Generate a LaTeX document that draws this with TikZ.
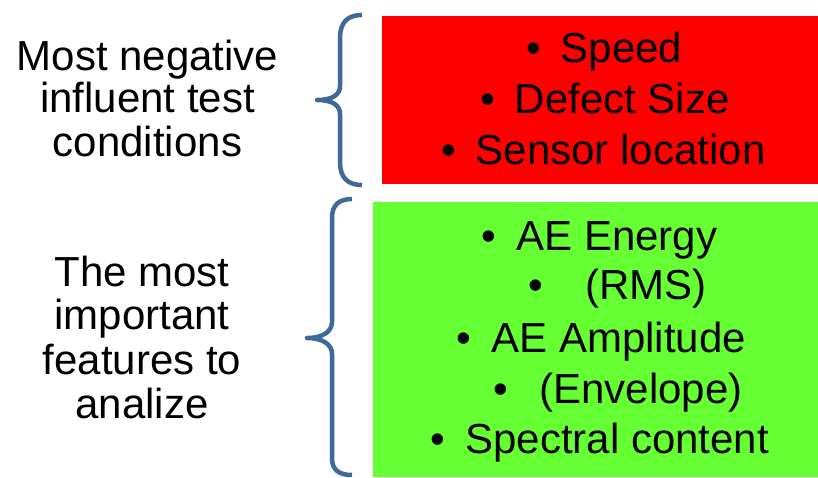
\documentclass[tikz,border=0pt]{standalone}
\usepackage{fontspec}
\setmainfont{Liberation Sans}
\definecolor{bracecol}{RGB}{64,104,153}
\definecolor{boxred}{RGB}{255,0,0}
\definecolor{boxgreen}{RGB}{102,255,51}
\begin{document}
\begin{tikzpicture}[x=1pt,y=-1pt,
  txt/.style={inner sep=0pt, font=\fontsize{42}{50}\selectfont},
  item/.style={txt, anchor=base west},
  sidetxt/.style={txt, anchor=base},
  panel/.style={draw=none, inner sep=0pt, anchor=north west},
  curly/.style={draw=bracecol, line width=4.5pt, line join=round}]
\useasboundingbox (0,0) rectangle (818,477);

% coloured panels
\node[panel, fill=boxred, minimum width=436pt, minimum height=168pt] (redbox) at (382,16) {};
\node[panel, fill=boxgreen, minimum width=445pt, minimum height=275pt] (greenbox) at (373,202) {};

% upper brace
\draw[curly] (362,15) .. controls (348,15) and (340,22) .. (340,38) -- (340,86)
  .. controls (340,95) and (332,100) .. (317,100)
  .. controls (332,100) and (340,105) .. (340,114) -- (340,162)
  .. controls (340,178) and (348,185) .. (362,185);
% lower brace
\draw[curly] (352,199) .. controls (339,199) and (332,205) .. (332,218) -- (332,322)
  .. controls (332,332) and (322,338) .. (307,338)
  .. controls (322,338) and (332,344) .. (332,354) -- (332,458)
  .. controls (332,470) and (339,475) .. (352,475);

% left captions
\node[sidetxt] (capA1) at (147.5,70) {Most negative};
\node[sidetxt] (capA2) at (147.5,112.7) {influent test};
\node[sidetxt] (capA3) at (147.5,156.7) {conditions};
\node[sidetxt] (capB1) at (142,286.7) {The most};
\node[sidetxt] (capB2) at (142,329.5) {important};
\node[sidetxt] (capB3) at (142,374) {features to};
\node[sidetxt] (capB4) at (142,418.3) {analize};

% red panel items
\node[item] (r1) at (526.5,62.5) {•\hspace{19.5pt}Speed};
\node[item] (r2) at (480.5,113.5) {•\hspace{19.5pt}Defect Size};
\node[item] (r3) at (441.5,164.5) {•\hspace{19.5pt}Sensor location};

% green panel items
\node[item] (g1) at (481.5,250.7) {•\hspace{20pt}AE Energy};
\node[item] (g2) at (528.5,299.3) {•\hspace{42pt}(RMS)};
\node[item] (g3) at (456.5,352.3) {•\hspace{20pt}AE Amplitude};
\node[item] (g4) at (493.5,403.3) {•\hspace{31pt}(Envelope)};
\node[item] (g5) at (430.5,453.3) {•\hspace{20pt}Spectral content};
\end{tikzpicture}
\end{document}
